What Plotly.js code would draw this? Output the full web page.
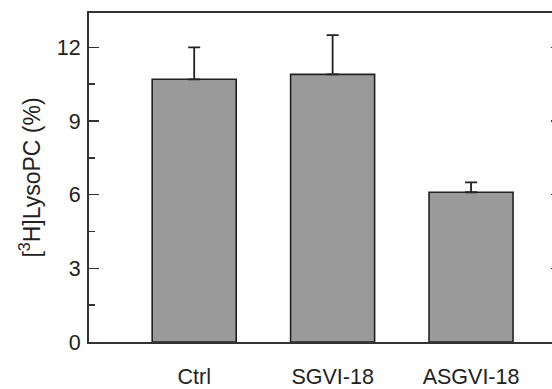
<!DOCTYPE html>
<html>
<head>
<meta charset="utf-8">
<script src="https://cdn.plot.ly/plotly-3.0.1.min.js"></script>
<style>
html,body{margin:0;padding:0;overflow:hidden;background:#fff;}
#chart{width:561px;height:389px;}
</style>
</head>
<body>
<div id="chart"></div>
<script>
const categories = ["Ctrl", "SGVI-18", "ASGVI-18"];
const values = [10.7, 10.9, 6.1];
const errors = [1.3, 1.6, 0.4];
const yTickVals = [0, 3, 6, 9, 12];
const yTickText = ["0", "3", "6", "9", "12"];

const trace = {
  type: "bar",
  x: categories,
  y: values,
  width: 0.607,
  marker: {color: "#9a9a9a", line: {color: "#222", width: 1.6}},
  error_y: {
    type: "data",
    symmetric: false,
    array: errors,
    arrayminus: values.map(() => 0),
    color: "#222",
    thickness: 1.8,
    width: 6
  },
  hoverinfo: "none"
};

const layout = {
  width: 561,
  height: 389,
  margin: {l: 89, r: 0, t: 13, b: 47},
  paper_bgcolor: "#fff",
  plot_bgcolor: "#fff",
  showlegend: false,
  font: {family: "Liberation Sans, Arial, sans-serif", color: "#222", size: 21},
  xaxis: {
    type: "category",
    range: [-0.76, 2.65],
    showline: true,
    linecolor: "#333",
    linewidth: 2,
    mirror: true,
    ticks: "",
    showgrid: false,
    zeroline: false,
    tickfont: {size: 21.5, color: "#222"},
    ticklabelstandoff: 14
  },
  yaxis: {
    range: [0, 13.4],
    tickvals: yTickVals,
    ticktext: yTickText,
    showline: true,
    linecolor: "#333",
    linewidth: 2,
    mirror: "ticks",
    ticks: "inside",
    ticklen: 10,
    tickwidth: 1.5,
    tickcolor: "#333",
    minor: {dtick: 1.5, tick0: 0, ticks: "inside", ticklen: 6, tickwidth: 1.5, tickcolor: "#333", showgrid: false},
    showgrid: false,
    zeroline: false,
    tickfont: {size: 21.5, color: "#222"},
    ticklabelstandoff: 2,
    title: {text: "[<sup>3</sup>H]LysoPC (%)", font: {size: 23, color: "#222"}, standoff: 10}
  }
};

Plotly.newPlot("chart", [trace], layout, {staticPlot: true, displayModeBar: false});
</script>
</body>
</html>
